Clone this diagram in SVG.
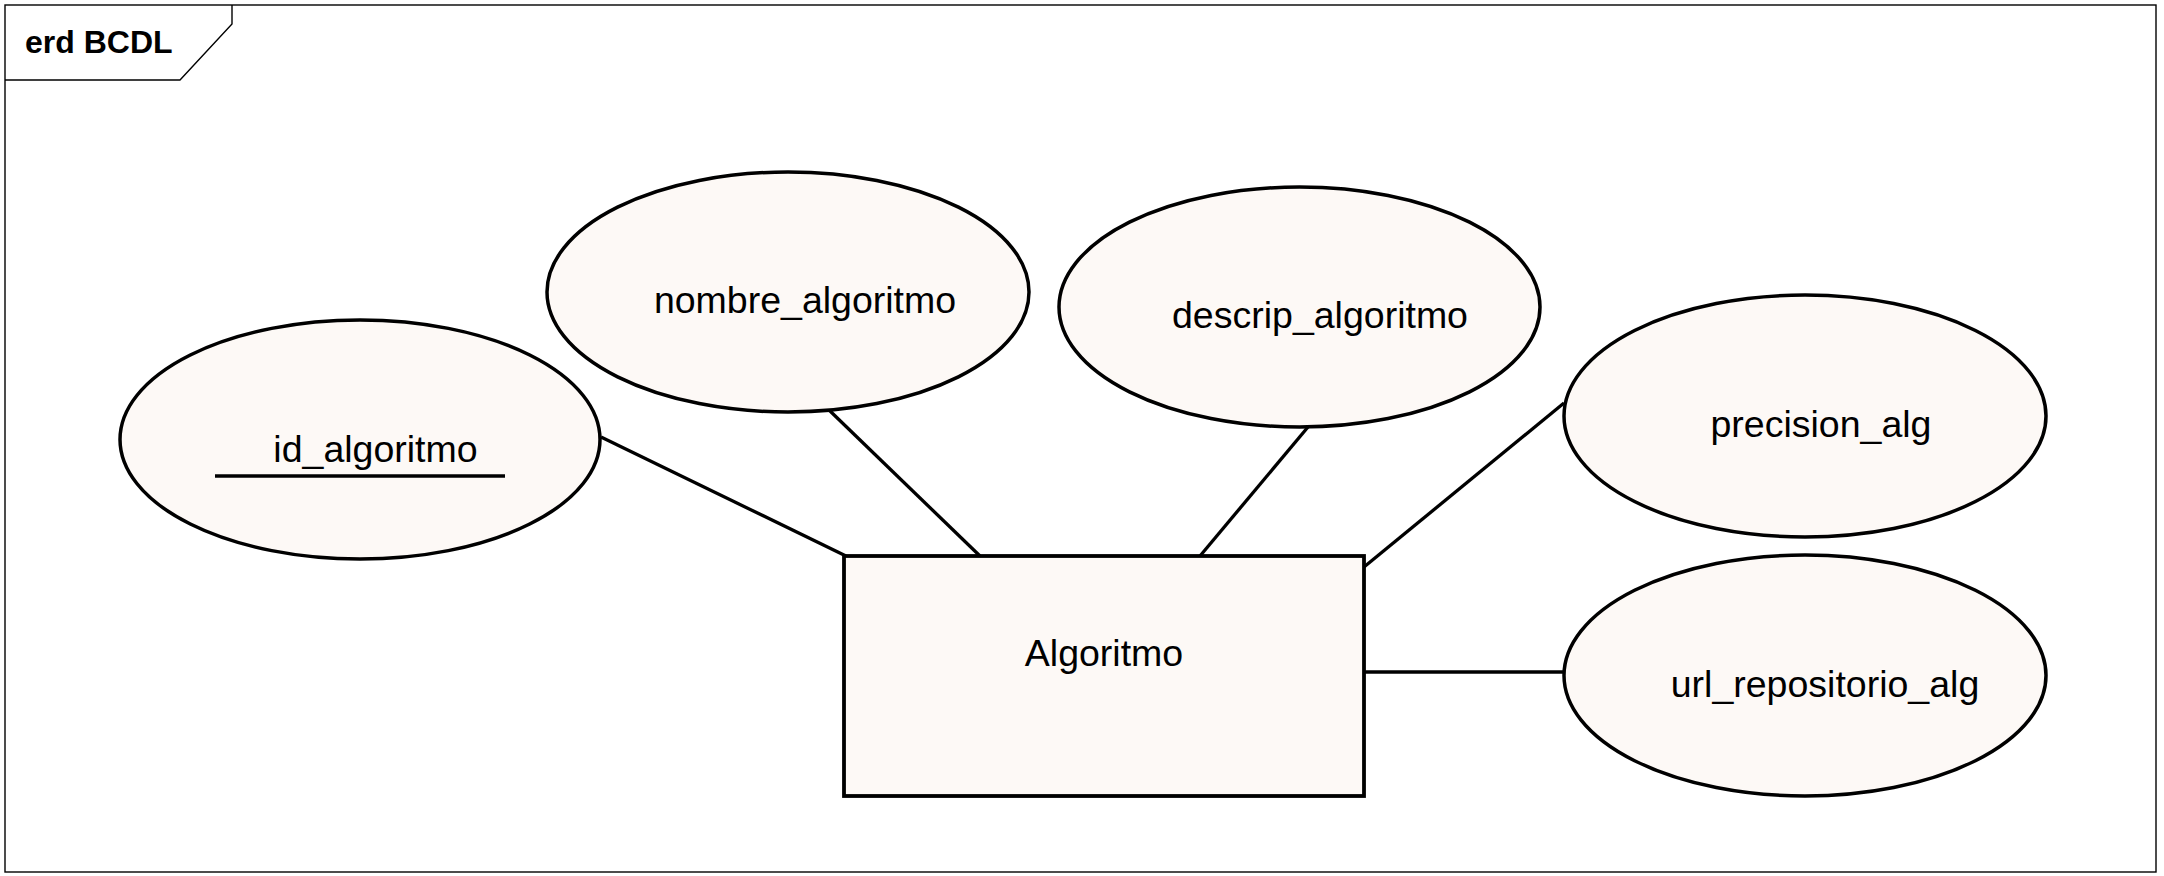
<svg xmlns="http://www.w3.org/2000/svg" width="2164" height="876" viewBox="0 0 2164 876">
<style>
.attr{fill:#FDF9F6;stroke:#000;stroke-width:3.5}
.ent{fill:#FDF9F6;stroke:#000;stroke-width:3.8}
.lbl{font-family:"Liberation Sans",Arial,sans-serif;font-size:37.5px;fill:#000;text-anchor:middle}
.conn{stroke:#000;stroke-width:3.3;fill:none}
.frame{fill:none;stroke:#000;stroke-width:1.4}
</style>
<rect x="0" y="0" width="2164" height="876" fill="#fff"/>
<g id="frame">
<rect class="frame" x="5" y="5" width="2151" height="867"/>
<polyline class="frame" points="5,80 180,80 232,24 232,5"/>
<text x="25" y="53" font-family="'Liberation Sans',Arial,sans-serif" font-weight="bold" font-size="32px" fill="#000">erd BCDL</text>
</g>
<g id="connectors">
<line class="conn" x1="601" y1="437" x2="846" y2="556"/>
<line class="conn" x1="829" y1="410" x2="980" y2="556"/>
<line class="conn" x1="1308" y1="427" x2="1200" y2="556"/>
<line class="conn" x1="1564" y1="403" x2="1364" y2="567"/>
<line class="conn" x1="1364" y1="672" x2="1564" y2="672"/>
</g>
<g id="id_algoritmo">
<ellipse class="attr" cx="360" cy="439.5" rx="240" ry="119.5"/>
<text class="lbl" x="375.5" y="462">id_algoritmo</text>
<line x1="215" y1="476" x2="505" y2="476" stroke="#000" stroke-width="3.5"/>
</g>
<g id="nombre_algoritmo">
<ellipse class="attr" cx="788" cy="292" rx="241" ry="120"/>
<text class="lbl" x="805" y="313">nombre_algoritmo</text>
</g>
<g id="descrip_algoritmo">
<ellipse class="attr" cx="1299.5" cy="307" rx="240.5" ry="120"/>
<text class="lbl" x="1320" y="328">descrip_algoritmo</text>
</g>
<g id="precision_alg">
<ellipse class="attr" cx="1805" cy="416" rx="241" ry="121"/>
<text class="lbl" x="1821" y="437">precision_alg</text>
</g>
<g id="url_repositorio_alg">
<ellipse class="attr" cx="1805" cy="675.5" rx="241" ry="120.5"/>
<text class="lbl" x="1825" y="697">url_repositorio_alg</text>
</g>
<g id="Algoritmo">
<rect class="ent" x="844" y="556" width="520" height="240"/>
<text class="lbl" x="1104" y="666">Algoritmo</text>
</g>
</svg>
